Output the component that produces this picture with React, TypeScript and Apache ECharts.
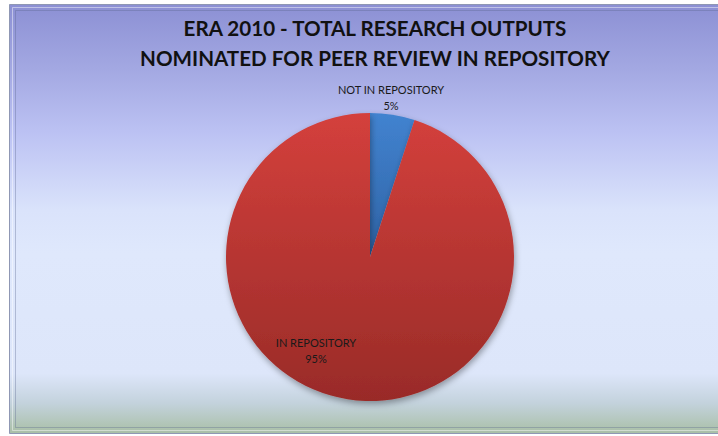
import React, { useEffect, useRef } from "react";
import * as echarts from "echarts";

const titleLines = ["ERA 2010 - TOTAL RESEARCH OUTPUTS", "NOMINATED FOR PEER REVIEW IN REPOSITORY"];
const categories = ["NOT IN REPOSITORY", "IN REPOSITORY"];
const values = [5, 95];

export default function App() {
  const ref = useRef<HTMLDivElement>(null);
  useEffect(() => {
    if (!ref.current) return;
    const chart = echarts.init(ref.current, null, { renderer: "svg" });
    const sliceColors = [
      new echarts.graphic.LinearGradient(0, 0, 0, 1, [
        { offset: 0, color: "#4283D0" },
        { offset: 1, color: "#2E62A4" },
      ]),
      new echarts.graphic.LinearGradient(0, 0, 0, 1, [
        { offset: 0, color: "#D4403C" },
        { offset: 1, color: "#992B28" },
      ]),
    ];
    const labelPos = [
      { x: 391, y: 97 },
      { x: 316, y: 350 },
    ];
    chart.setOption({
      animation: false,
      graphic: [
        {
          type: "rect",
          z: -10,
          shape: { x: 9.5, y: 4.5, width: 720, height: 429 },
          style: {
            fill: new echarts.graphic.LinearGradient(0, 0, 0, 1, [
              { offset: 0, color: "#8C90D4" },
              { offset: 0.15, color: "#A3A8E2" },
              { offset: 0.3, color: "#BCC2F3" },
              { offset: 0.48, color: "#DAE3FB" },
              { offset: 0.58, color: "#DFE8FC" },
              { offset: 0.86, color: "#DDE6FA" },
              { offset: 0.93, color: "#C3D2DC" },
              { offset: 1, color: "#A9BFA6" },
            ]),
            stroke: "#8F97B4",
            lineWidth: 1,
          },
        },
        {
          type: "rect",
          z: -9,
          shape: { x: 12.5, y: 7.5, width: 720, height: 423 },
          style: { fill: "none", stroke: "rgba(255,255,255,0.45)", lineWidth: 1 },
        },
        {
          type: "rect",
          z: -9,
          shape: { x: 15.5, y: 10.5, width: 720, height: 417 },
          style: { fill: "none", stroke: "rgba(90,100,140,0.35)", lineWidth: 1 },
        },
      ],
      title: {
        text: titleLines.join("\n"),
        left: 370,
        top: 8,
        textAlign: "center",
        textStyle: {
          fontFamily: "Lato",
          fontWeight: "bold",
          fontSize: 20.6,
          lineHeight: 30,
          color: "#111",
        },
      },
      series: [
        {
          type: "pie",
          center: [370, 257],
          radius: 144,
          startAngle: 90,
          clockwise: true,
          data: categories.map((name, i) => ({
            name,
            value: values[i],
            itemStyle: { color: sliceColors[i] },
          })),
          itemStyle: {
            shadowBlur: 6,
            shadowOffsetY: 3,
            shadowOffsetX: 1,
            shadowColor: "rgba(0,0,0,0.35)",
          },
          label: {
            show: true,
            position: "inside",
            formatter: "{b}\n{d}%",
            fontFamily: "Lato",
            fontSize: 11,
            lineHeight: 16,
            color: "#1a1a1a",
            align: "center",
          },
          labelLine: { show: false },
          labelLayout: (params: any) => ({
            x: labelPos[params.dataIndex].x,
            y: labelPos[params.dataIndex].y,
            align: "center",
            verticalAlign: "middle",
          }),
          emphasis: { disabled: true },
        },
      ],
    });
    return () => chart.dispose();
  }, []);
  return (
    <div
      ref={ref}
      style={{ position: "absolute", left: 0, top: 0, width: 718, height: 436 }}
    />
  );
}
